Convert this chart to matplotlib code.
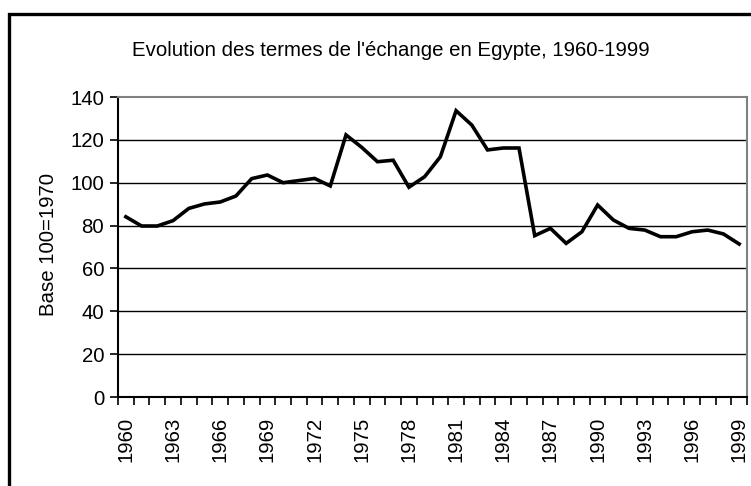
import matplotlib
matplotlib.use("Agg")
import matplotlib.pyplot as plt
from matplotlib.patches import Rectangle
from matplotlib.ticker import FixedLocator, NullFormatter

years = list(range(1960, 2000))
values = [84.1, 79.8, 79.8, 82.3, 88.0, 90.1, 91.0, 93.8, 101.9, 103.6,
          100.0, 101.0, 102.0, 98.5, 122.3, 116.5, 109.8, 110.5, 97.9, 102.8,
          112.1, 133.6, 126.9, 115.3, 116.2, 116.2, 75.3, 78.7, 71.7, 77.1,
          89.6, 82.6, 78.7, 77.9, 74.8, 74.8, 77.1, 77.9, 76.1, 71.4]
title = "Evolution des termes de l'échange en Egypte, 1960-1999"
ylabel = "Base 100=1970"
yticks = [0, 20, 40, 60, 80, 100, 120, 140]

plt.rcParams['font.family'] = ['Liberation Sans', 'DejaVu Sans']
FS = 14.7

W, H = 751, 486
fig = plt.figure(figsize=(W / 100, H / 100), dpi=100)

# outer border (cropped on the right and bottom)
fig.patches.append(Rectangle((9 / W, -0.1), 2.0, (H - 14) / H + 0.1,
                             transform=fig.transFigure, fill=False,
                             edgecolor='black', linewidth=2.4, zorder=10))

ax = fig.add_axes([118 / W, (H - 397) / H, 629 / W, 300 / H])
x = list(range(len(years)))
ax.plot(x, values, color='black', linewidth=2.6, solid_joinstyle='miter', zorder=3)

ax.set_xlim(-0.5, len(years) - 0.5)
ax.set_ylim(0, 140)
ax.set_yticks(yticks)
ax.set_yticklabels([str(v) for v in yticks], fontsize=FS)
for v in yticks[1:-1]:
    ax.axhline(v, color='black', linewidth=1.0, zorder=1)

# x ticks at category boundaries, labels every 3 years
ax.xaxis.set_major_locator(FixedLocator([i - 0.5 for i in range(len(years) + 1)]))
ax.xaxis.set_major_formatter(NullFormatter())
lab_idx = list(range(0, len(years), 3))
ax.xaxis.set_minor_locator(FixedLocator(lab_idx))
ax.set_xticklabels([str(years[i]) for i in lab_idx], minor=True,
                   rotation=90, fontsize=FS)
ax.tick_params(axis='x', which='minor', length=0, pad=14)
ax.tick_params(axis='x', which='major', length=6, width=1.2, direction='out')
ax.tick_params(axis='y', length=6, width=1.2, direction='out', pad=4)

for s in ['left', 'bottom']:
    ax.spines[s].set_color('black')
    ax.spines[s].set_linewidth(1.5)
for s in ['top', 'right']:
    ax.spines[s].set_color('#808080')
    ax.spines[s].set_linewidth(1.5)

fig.text(391 / W, 1 - 50 / H, title, ha='center', va='center', fontsize=FS)
fig.text(48 / W, 1 - 245 / H, ylabel, ha='center', va='center',
         rotation=90, fontsize=FS)

fig.savefig("out.png", dpi=100)
